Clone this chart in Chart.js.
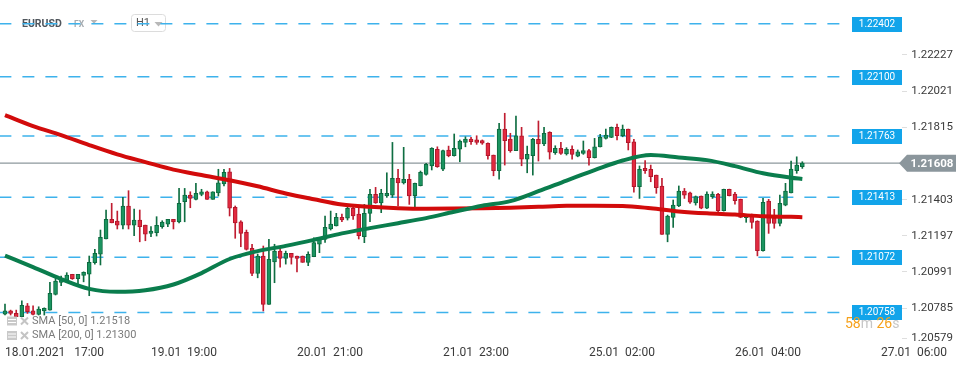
<!DOCTYPE html>
<html lang="en">
<head>
  <meta charset="UTF-8">
  <title>EURUSD H1</title>
  <script src="https://cdn.jsdelivr.net/npm/chart.js"></script>
  <style>
    html, body { margin: 0; padding: 0; background: #fff; }
    #wrap { width: 970px; height: 368px; }
  </style>
</head>
<body>
<div id="wrap"><canvas id="eurusd" width="970" height="368"></canvas></div>
<script>
// EURUSD hourly bars from 18.01.2021 17:00, one entry per bar
const candleOpen = [
  1.20748, 1.20767, 1.20752, 1.20733, 1.20796, 1.20767, 1.20747, 1.20767, 1.20771, 1.20861,
  1.20929, 1.20942, 1.20975, 1.20950, 1.20969, 1.20975, 1.21041, 1.21090, 1.21177, 1.21288,
  1.21278, 1.21255, 1.21364, 1.21255, 1.21284, 1.21255, 1.21208, 1.21212, 1.21246, 1.21261,
  1.21288, 1.21273, 1.21388, 1.21426, 1.21402, 1.21430, 1.21445, 1.21402, 1.21439, 1.21489,
  1.21559, 1.21356, 1.21274, 1.21214, 1.21123, 1.20980, 1.21079, 1.20804, 1.21046, 1.21107,
  1.21066, 1.21094, 1.21079, 1.21079, 1.21043, 1.21075, 1.21146, 1.21174, 1.21233, 1.21251,
  1.21299, 1.21294, 1.21351, 1.21318, 1.21189, 1.21322, 1.21430, 1.21382, 1.21421, 1.21426,
  1.21521, 1.21496, 1.21516, 1.21422, 1.21479, 1.21544, 1.21592, 1.21687, 1.21573, 1.21683,
  1.21650, 1.21687, 1.21726, 1.21745, 1.21740, 1.21736, 1.21721, 1.21654, 1.21565, 1.21802,
  1.21745, 1.21679, 1.21764, 1.21631, 1.21650, 1.21744, 1.21717, 1.21783, 1.21667, 1.21692,
  1.21660, 1.21687, 1.21648, 1.21664, 1.21679, 1.21639, 1.21701, 1.21749, 1.21755, 1.21812,
  1.21764, 1.21802, 1.21730, 1.21474, 1.21578, 1.21573, 1.21540, 1.21478, 1.21202, 1.21299,
  1.21364, 1.21449, 1.21439, 1.21382, 1.21421, 1.21351, 1.21417, 1.21430, 1.21337, 1.21459,
  1.21432, 1.21402, 1.21297, 1.21307, 1.21278, 1.21109, 1.21392, 1.21297, 1.21265, 1.21369,
  1.21439, 1.21565, 1.21588
];
const candleHigh = [
  1.20805, 1.20771, 1.20771, 1.20824, 1.20809, 1.20796, 1.20790, 1.20784, 1.20929, 1.20952,
  1.20965, 1.20984, 1.20975, 1.20975, 1.20989, 1.21079, 1.21117, 1.21227, 1.21341, 1.21379,
  1.21335, 1.21413, 1.21451, 1.21347, 1.21341, 1.21255, 1.21246, 1.21303, 1.21280, 1.21288,
  1.21288, 1.21464, 1.21464, 1.21445, 1.21493, 1.21459, 1.21449, 1.21445, 1.21573, 1.21573,
  1.21578, 1.21364, 1.21280, 1.21227, 1.21146, 1.21090, 1.21136, 1.21174, 1.21146, 1.21126,
  1.21107, 1.21094, 1.21079, 1.21079, 1.21103, 1.21183, 1.21181, 1.21307, 1.21335, 1.21322,
  1.21318, 1.21360, 1.21358, 1.21356, 1.21373, 1.21459, 1.21470, 1.21459, 1.21553, 1.21726,
  1.21573, 1.21698, 1.21544, 1.21495, 1.21563, 1.21607, 1.21696, 1.21701, 1.21683, 1.21705,
  1.21774, 1.21740, 1.21758, 1.21755, 1.21764, 1.21740, 1.21723, 1.21654, 1.21835, 1.21892,
  1.21778, 1.21876, 1.21812, 1.21705, 1.21749, 1.21848, 1.21812, 1.21787, 1.21707, 1.21726,
  1.21696, 1.21707, 1.21683, 1.21734, 1.21687, 1.21749, 1.21772, 1.21802, 1.21814, 1.21831,
  1.21825, 1.21802, 1.21744, 1.21592, 1.21622, 1.21597, 1.21540, 1.21521, 1.21312, 1.21398,
  1.21478, 1.21464, 1.21443, 1.21421, 1.21421, 1.21445, 1.21445, 1.21436, 1.21460, 1.21460,
  1.21442, 1.21403, 1.21308, 1.21318, 1.21280, 1.21407, 1.21402, 1.21345, 1.21426, 1.21493,
  1.21620, 1.21644, 1.21616
];
const candleLow = [
  1.20743, 1.20743, 1.20733, 1.20733, 1.20752, 1.20743, 1.20743, 1.20743, 1.20771, 1.20857,
  1.20910, 1.20938, 1.20946, 1.20919, 1.20932, 1.20853, 1.21033, 1.21028, 1.21177, 1.21268,
  1.21233, 1.21233, 1.21233, 1.21195, 1.21160, 1.21166, 1.21189, 1.21193, 1.21237, 1.21246,
  1.21233, 1.21268, 1.21274, 1.21354, 1.21398, 1.21422, 1.21402, 1.21402, 1.21421, 1.21478,
  1.21307, 1.21180, 1.21132, 1.21113, 1.20967, 1.20955, 1.20766, 1.20804, 1.20927, 1.21015,
  1.21033, 1.21033, 1.20989, 1.21043, 1.21024, 1.21075, 1.21098, 1.21157, 1.21227, 1.21250,
  1.21274, 1.21284, 1.21288, 1.21176, 1.21155, 1.21274, 1.21379, 1.21326, 1.21413, 1.21413,
  1.21364, 1.21489, 1.21373, 1.21360, 1.21478, 1.21540, 1.21569, 1.21584, 1.21565, 1.21644,
  1.21648, 1.21616, 1.21701, 1.21715, 1.21715, 1.21715, 1.21631, 1.21536, 1.21517, 1.21597,
  1.21670, 1.21679, 1.21593, 1.21553, 1.21540, 1.21620, 1.21707, 1.21631, 1.21658, 1.21658,
  1.21654, 1.21631, 1.21644, 1.21658, 1.21597, 1.21637, 1.21700, 1.21745, 1.21753, 1.21740,
  1.21758, 1.21683, 1.21442, 1.21407, 1.21550, 1.21502, 1.21436, 1.21202, 1.21160, 1.21242,
  1.21360, 1.21407, 1.21379, 1.21369, 1.21348, 1.21348, 1.21407, 1.21331, 1.21335, 1.21421,
  1.21375, 1.21297, 1.21271, 1.21237, 1.21080, 1.21107, 1.21208, 1.21237, 1.21251, 1.21365,
  1.21439, 1.21550, 1.21578
];
const candleClose = [
  1.20767, 1.20752, 1.20733, 1.20798, 1.20762, 1.20747, 1.20777, 1.20781, 1.20866, 1.20936,
  1.20952, 1.20971, 1.20950, 1.20975, 1.20986, 1.21043, 1.21094, 1.21185, 1.21288, 1.21268,
  1.21255, 1.21364, 1.21255, 1.21284, 1.21246, 1.21204, 1.21221, 1.21254, 1.21273, 1.21288,
  1.21273, 1.21379, 1.21426, 1.21407, 1.21436, 1.21445, 1.21402, 1.21445, 1.21496, 1.21556,
  1.21351, 1.21268, 1.21208, 1.21117, 1.20980, 1.21079, 1.20804, 1.21060, 1.21107, 1.21066,
  1.21094, 1.21071, 1.21066, 1.21043, 1.21088, 1.21155, 1.21180, 1.21242, 1.21261, 1.21299,
  1.21284, 1.21351, 1.21308, 1.21195, 1.21322, 1.21430, 1.21382, 1.21436, 1.21436, 1.21521,
  1.21496, 1.21516, 1.21421, 1.21493, 1.21556, 1.21601, 1.21692, 1.21588, 1.21679, 1.21650,
  1.21692, 1.21734, 1.21745, 1.21730, 1.21726, 1.21721, 1.21650, 1.21565, 1.21802, 1.21736,
  1.21679, 1.21764, 1.21631, 1.21658, 1.21744, 1.21717, 1.21778, 1.21670, 1.21692, 1.21664,
  1.21687, 1.21658, 1.21673, 1.21679, 1.21639, 1.21701, 1.21755, 1.21768, 1.21812, 1.21764,
  1.21802, 1.21724, 1.21474, 1.21573, 1.21565, 1.21531, 1.21468, 1.21202, 1.21307, 1.21369,
  1.21449, 1.21426, 1.21385, 1.21417, 1.21351, 1.21432, 1.21432, 1.21337, 1.21459, 1.21422,
  1.21394, 1.21299, 1.21307, 1.21271, 1.21109, 1.21385, 1.21265, 1.21265, 1.21379, 1.21449,
  1.21574, 1.21597, 1.21608
];

// moving averages at these bars
const smaBars = [0, 5, 10, 15, 20, 25, 30, 35, 40, 45, 50, 55, 60, 65, 70, 75, 80, 85, 90, 95,
  100, 105, 110, 115, 120, 125, 130, 135, 140, 142];
const sma50 = [1.21081, 1.21016, 1.20948, 1.20892, 1.20875, 1.20884, 1.20917, 1.20982, 1.21062, 1.21107,
  1.21137, 1.21171, 1.21208, 1.21238, 1.21266, 1.21295, 1.21331, 1.21365, 1.21392, 1.21448,
  1.21509, 1.21568, 1.21623, 1.21654, 1.21640, 1.21625, 1.21591, 1.21550, 1.21525, 1.21518];
const sma200 = [1.21882, 1.21819, 1.21768, 1.21711, 1.21658, 1.21614, 1.21571, 1.21540, 1.21511, 1.21476,
  1.21435, 1.21402, 1.21372, 1.21359, 1.21351, 1.21348, 1.21349, 1.21351, 1.21354, 1.21359,
  1.21365, 1.21365, 1.21364, 1.21351, 1.21333, 1.21322, 1.21315, 1.21305, 1.21302, 1.21300];

const levels = [1.22402, 1.22100, 1.21763, 1.21413, 1.21072, 1.20758];
const lastPrice = 1.21608;
const priceTicks = [1.22227, 1.22021, 1.21815, 1.21403, 1.21197, 1.20991, 1.20785, 1.20579];
const timeTickBars = [0, 26, 52, 78, 104, 130, 156];
const timeTickLabels = ['18.01.2021   17:00', '19.01  19:00', '20.01  21:00', '21.01  23:00',
  '25.01  02:00', '26.01  04:00', '27.01  06:00'];

const bars = candleOpen.map((v, i) => i);
const isUp = bars.map(i => candleClose[i] >= candleOpen[i]);

// horizontal extent of the level lines, in bar units
const levelFrom = -1, levelTo = 149.8, priceLineTo = 159.4;

function tri(c, x, y, w, col) {
  c.fillStyle = col;
  c.beginPath();
  c.moveTo(x, y);
  c.lineTo(x + w, y);
  c.lineTo(x + w / 2, y + w * 0.55);
  c.closePath();
  c.fill();
}

function rrect(c, x, y, w, h, r) {
  c.beginPath();
  c.moveTo(x + r, y);
  c.lineTo(x + w - r, y);
  c.quadraticCurveTo(x + w, y, x + w, y + r);
  c.lineTo(x + w, y + h - r);
  c.quadraticCurveTo(x + w, y + h, x + w - r, y + h);
  c.lineTo(x + r, y + h);
  c.quadraticCurveTo(x, y + h, x, y + h - r);
  c.lineTo(x, y + r);
  c.quadraticCurveTo(x, y, x + r, y);
  c.closePath();
}

const overlay = {
  id: 'overlay',
  beforeDatasetsDraw(chart) {
    const c = chart.ctx;
    c.save();
    c.textBaseline = 'middle';
    c.font = 'bold 10.5px Roboto';
    c.fillStyle = '#50565d';
    c.fillText('EURUSD', 22, 24);
    c.font = 'bold 8.5px Roboto';
    c.fillStyle = '#a5abb0';
    c.fillText('FX', 74, 25);
    tri(c, 90.5, 20, 7, '#b8b8b8');
    rrect(c, 131.5, 14.5, 34, 17, 3);
    c.fillStyle = '#fff';
    c.fill();
    c.strokeStyle = '#dcdcdc';
    c.lineWidth = 1;
    c.stroke();
    c.font = '11px Roboto';
    c.fillStyle = '#555';
    c.fillText('H1', 136, 23.5);
    tri(c, 154.5, 22, 8, '#b8b8b8');
    c.restore();
  },
  afterDatasetsDraw(chart) {
    const c = chart.ctx;
    const y = chart.scales.y;
    c.save();
    c.textBaseline = 'middle';

    // price scale labels
    c.font = '11.5px Roboto';
    c.textAlign = 'right';
    priceTicks.forEach(v => {
      const py = Math.min(y.getPixelForValue(v), 337.5);
      c.strokeStyle = '#dedede';
      c.lineWidth = 1;
      c.beginPath();
      c.moveTo(902, Math.round(py) + 0.5);
      c.lineTo(907, Math.round(py) + 0.5);
      c.stroke();
      c.fillStyle = '#3a3a3a';
      c.fillText(v.toFixed(5), 953, py + 0.5);
    });

    // level tags
    c.font = '10px Roboto';
    c.textAlign = 'center';
    levels.forEach(v => {
      const py = Math.round(y.getPixelForValue(v));
      c.fillStyle = '#12a4ea';
      c.fillRect(852, py - 7, 50, 15);
      c.fillStyle = '#fff';
      c.fillText(v.toFixed(5), 877, py + 0.5);
    });

    // last price tag
    const lp = y.getPixelForValue(lastPrice);
    c.fillStyle = '#8b969c';
    c.beginPath();
    c.moveTo(899, lp);
    c.lineTo(907, lp - 8.5);
    c.lineTo(956, lp - 8.5);
    c.lineTo(956, lp + 8.5);
    c.lineTo(907, lp + 8.5);
    c.closePath();
    c.fill();
    c.font = 'bold 11.5px Roboto';
    c.fillStyle = '#fff';
    c.fillText(lastPrice.toFixed(5), 932, lp + 0.5);

    // indicator legend
    c.textAlign = 'left';
    c.font = '11px Roboto';
    [['SMA [50, 0] ', sma50], ['SMA [200, 0] ', sma200]].forEach((row, k) => {
      const ly = 321 + k * 14.5;
      c.fillStyle = '#c9c9c9';
      c.fillRect(7, ly - 4.5, 10, 9);
      c.fillStyle = '#fff';
      c.fillRect(8, ly - 2, 8, 1);
      c.fillRect(8, ly + 1, 8, 1);
      c.strokeStyle = '#c4c4c4';
      c.lineWidth = 2;
      c.beginPath();
      c.moveTo(21, ly - 3.5); c.lineTo(28, ly + 3.5);
      c.moveTo(28, ly - 3.5); c.lineTo(21, ly + 3.5);
      c.stroke();
      c.fillStyle = '#7a7a7a';
      c.fillText(row[0] + row[1][row[1].length - 1].toFixed(5), 32, ly);
    });

    // bar countdown
    c.font = '14px Roboto';
    let cx = 845;
    [['58', '#f6a21c'], ['m ', '#c6c6c6'], ['26', '#f6a21c'], ['s', '#c6c6c6']].forEach(p => {
      c.fillStyle = p[1];
      c.fillText(p[0], cx, 324);
      cx += c.measureText(p[0]).width;
    });
    c.restore();
  }
};

Chart.defaults.font.family = 'Roboto';

const lineDs = (data, color, width, order, extra) => Object.assign({
  type: 'line', data: data, borderColor: color, borderWidth: width,
  pointRadius: 0, fill: false, order: order
}, extra || {});

const datasets = [
  lineDs(smaBars.map((b, k) => ({ x: b, y: sma50[k] })), '#0a7d4d', 4, 1, { cubicInterpolationMode: 'monotone' }),
  lineDs(smaBars.map((b, k) => ({ x: b, y: sma200[k] })), '#d20b0b', 4, 2, { cubicInterpolationMode: 'monotone' }),
  {
    type: 'bar', label: 'body', order: 3, grouped: false,
    data: bars.map(i => ({ x: i, y: [candleOpen[i], candleClose[i]] })),
    backgroundColor: bars.map(i => isUp[i] ? '#1b9460' : '#e2293f'),
    borderColor: bars.map(i => isUp[i] ? '#0c6a3f' : '#b0172b'),
    borderWidth: 1, borderSkipped: false, barThickness: 4, minBarLength: 2
  },
  {
    type: 'bar', label: 'wick', order: 4, grouped: false,
    data: bars.map(i => ({ x: i, y: [candleLow[i], candleHigh[i]] })),
    backgroundColor: bars.map(i => isUp[i] ? '#0f6e42' : '#c01d31'),
    borderWidth: 0, barThickness: 1
  },
  lineDs([{ x: levelFrom, y: lastPrice }, { x: priceLineTo, y: lastPrice }], '#8d989d', 1.2, 5)
].concat(levels.map(v =>
  lineDs([{ x: levelFrom, y: v }, { x: levelTo, y: v }], '#3db2ec', 1.5, 6, { borderDash: [12, 11] })
));

new Chart(document.getElementById('eurusd'), {
  type: 'bar',
  data: { datasets: datasets },
  options: {
    responsive: false,
    animation: false,
    devicePixelRatio: 1,
    layout: { padding: 0 },
    plugins: { legend: { display: false }, tooltip: { enabled: false } },
    scales: {
      x: {
        type: 'linear', min: -0.89, max: 171.86, offset: false, bounds: 'data',
        grid: { display: false, drawTicks: false, offset: false },
        border: { display: false },
        afterBuildTicks: s => { s.ticks = timeTickBars.map(v => ({ value: v })); },
        afterFit: s => { s.height = 24; },
        ticks: {
          autoSkip: false, maxRotation: 0, align: 'start', padding: 2,
          color: '#3a3a3a', font: { family: 'Roboto', size: 12 },
          callback: (v, i) => timeTickLabels[i]
        }
      },
      y: { display: false, min: 1.20578, max: 1.22537, beginAtZero: false, bounds: 'data' }
    }
  },
  plugins: [overlay]
});
</script>
</body>
</html>
